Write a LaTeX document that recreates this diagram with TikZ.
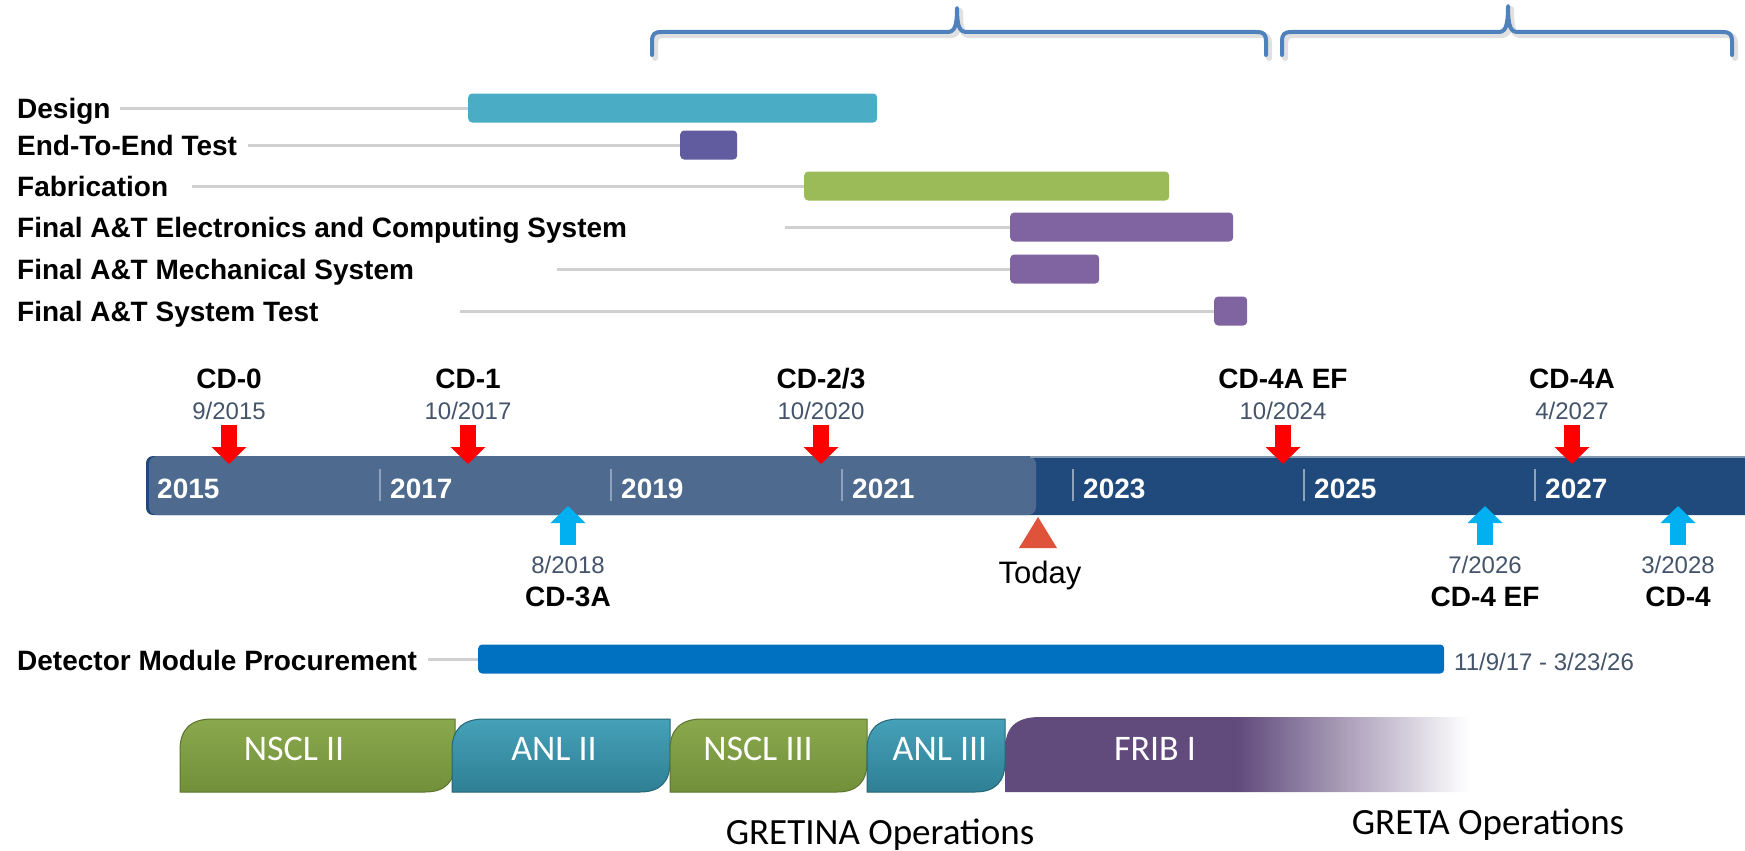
\documentclass[tikz,border=0pt]{standalone}
\usepackage{fontspec}
\setmainfont{Liberation Sans}
\newfontfamily\calibri{Carlito}
\usepackage{tikz}
\usetikzlibrary{arrows.meta}

\definecolor{designcol}{HTML}{4BACC6}
\definecolor{etecol}{HTML}{615B9F}
\definecolor{fabcol}{HTML}{9BBB59}
\definecolor{atcol}{HTML}{8064A2}
\definecolor{guidegray}{HTML}{D0D0D0}
\definecolor{lightbar}{HTML}{4E6A8E}
\definecolor{darkbar}{HTML}{214A7C}
\definecolor{tickcol}{HTML}{8EA2BE}
\definecolor{datecol}{HTML}{44546A}
\definecolor{milered}{HTML}{FF0000}
\definecolor{mileblue}{HTML}{00B0F0}
\definecolor{todaycol}{HTML}{E0533B}
\definecolor{detcol}{HTML}{0070C0}
\definecolor{bracecol}{HTML}{4F81BD}
\definecolor{greentop}{HTML}{8AA84C}
\definecolor{greenbot}{HTML}{72903A}
\definecolor{tealtop}{HTML}{45A1B9}
\definecolor{tealbot}{HTML}{2F7F94}
\definecolor{fribcol}{HTML}{614A7C}

\begin{document}
\begin{tikzpicture}[x=1pt, y=-1pt,
  tasklabel/.style={anchor=base west, inner sep=0pt, font=\fontsize{28}{32}\selectfont\bfseries},
  taskbar/.style={anchor=west, inner sep=0pt, minimum height=29pt, rounded corners=4pt},
  guide/.style={draw=guidegray, line width=3pt},
  cdname/.style={anchor=base, inner sep=0pt, font=\fontsize{28}{32}\selectfont\bfseries},
  cddate/.style={anchor=base, inner sep=0pt, text=datecol, font=\fontsize{24}{28}\selectfont},
  downarr/.style={draw=milered, line width=16pt, -{Triangle[width=34pt,length=17pt]}},
  uparr/.style={draw=mileblue, line width=16pt, -{Triangle[width=34pt,length=17pt]}},
  yearlabel/.style={anchor=base west, inner sep=0pt, text=white, font=\fontsize{28}{32}\selectfont\bfseries},
  yeartick/.style={draw=tickcol, line width=2.5pt},
  opslabel/.style={anchor=base, inner sep=0pt, text=white, font=\calibri\fontsize{36}{40}\selectfont},
  opstitle/.style={anchor=base, inner sep=0pt, font=\calibri\fontsize{37}{42}\selectfont},
  curlybrace/.style={draw=bracecol, line width=4pt, line cap=round, line join=round},
  braceshadow/.style={draw=black, opacity=0.12, line width=6pt, line cap=round, line join=round}]

\useasboundingbox (0,0) rectangle (1745,851);

% Accolades du haut
\draw[braceshadow] (655,58) -- (655,45) .. controls (655,37) and (657,35) .. (665,35) -- (950,35) .. controls (957,35) and (960,31) .. (960,11) .. controls (960,31) and (963,35) .. (970,35) -- (1259,35) .. controls (1267,35) and (1269,37) .. (1269,45) -- (1269,58);
\draw[curlybrace] (652,55) -- (652,42) .. controls (652,34) and (654,32) .. (662,32) -- (947,32) .. controls (954,32) and (957,28) .. (957,8) .. controls (957,28) and (960,32) .. (967,32) -- (1256,32) .. controls (1264,32) and (1266,34) .. (1266,42) -- (1266,55);

\draw[braceshadow] (1285,58) -- (1285,45) .. controls (1285,37) and (1287,35) .. (1295,35) -- (1501,35) .. controls (1508,35) and (1511,31) .. (1511,9) .. controls (1511,31) and (1514,35) .. (1521,35) -- (1725,35) .. controls (1733,35) and (1735,37) .. (1735,45) -- (1735,58);
\draw[curlybrace] (1282,55) -- (1282,42) .. controls (1282,34) and (1284,32) .. (1292,32) -- (1498,32) .. controls (1505,32) and (1508,28) .. (1508,6) .. controls (1508,28) and (1511,32) .. (1518,32) -- (1722,32) .. controls (1730,32) and (1732,34) .. (1732,42) -- (1732,55);

% Taches
\node[tasklabel] (ldesign) at (17,118) {Design};
\coordinate (gdesign) at (120,108);
\node[taskbar, fill=designcol, minimum width=409pt] (bdesign) at (468,108) {};
\draw[guide] (gdesign) -- (bdesign.west);

\node[tasklabel] (lete) at (17,155) {End-To-End Test};
\coordinate (gete) at (248,145);
\node[taskbar, fill=etecol, minimum width=57pt] (bete) at (680,145) {};
\draw[guide] (gete) -- (bete.west);

\node[tasklabel] (lfab) at (17,196) {Fabrication};
\coordinate (gfab) at (192,186);
\node[taskbar, fill=fabcol, minimum width=365pt] (bfab) at (804,186) {};
\draw[guide] (gfab) -- (bfab.west);

\node[tasklabel] (lelec) at (17,237) {Final A\&T Electronics and Computing System};
\coordinate (gelec) at (785,227);
\node[taskbar, fill=atcol, minimum width=223pt] (belec) at (1010,227) {};
\draw[guide] (gelec) -- (belec.west);

\node[tasklabel] (lmech) at (17,279) {Final A\&T Mechanical System};
\coordinate (gmech) at (557,269);
\node[taskbar, fill=atcol, minimum width=89pt] (bmech) at (1010,269) {};
\draw[guide] (gmech) -- (bmech.west);

\node[tasklabel] (lsyst) at (17,321) {Final A\&T System Test};
\coordinate (gsyst) at (460,311);
\node[taskbar, fill=atcol, minimum width=33pt] (bsyst) at (1214,311) {};
\draw[guide] (gsyst) -- (bsyst.west);

% Frise chronologique
\fill[darkbar, rounded corners=7pt] (1760,456) -- (146,456) -- (146,515) -- (1760,515) -- cycle;
\fill[lightbar, rounded corners=8pt] (149,456) rectangle (1036,515);
\draw[color=lightbar!70!white, line width=1.5pt] (1030,457) -- (1745,457);

\draw[yeartick] (380,469) -- (380,501);
\draw[yeartick] (611,469) -- (611,501);
\draw[yeartick] (842,469) -- (842,501);
\draw[yeartick] (1073,469) -- (1073,501);
\draw[yeartick] (1304,469) -- (1304,501);
\draw[yeartick] (1535,469) -- (1535,501);

\node[yearlabel] (yfifteen) at (157,498) {2015};
\node[yearlabel] (yseventeen) at (390,498) {2017};
\node[yearlabel] (ynineteen) at (621,498) {2019};
\node[yearlabel] (ytwentyone) at (852,498) {2021};
\node[yearlabel] (ytwentythree) at (1083,498) {2023};
\node[yearlabel] (ytwentyfive) at (1314,498) {2025};
\node[yearlabel] (ytwentyseven) at (1545,498) {2027};

% Jalons au-dessus
\node[cdname] (cdzero) at (229,388) {CD-0};
\node[cddate] (dzero) at (229,419) {9/2015};
\coordinate (tzero) at (229,464);
\draw[downarr] (229,425) -- (tzero);

\node[cdname] (cdone) at (468,388) {CD-1};
\node[cddate] (done) at (468,419) {10/2017};
\coordinate (tone) at (468,464);
\draw[downarr] (468,425) -- (tone);

\node[cdname] (cdtwothree) at (821,388) {CD-2/3};
\node[cddate] (dtwothree) at (821,419) {10/2020};
\coordinate (ttwothree) at (821,464);
\draw[downarr] (821,425) -- (ttwothree);

\node[cdname] (cdfouraef) at (1283,388) {CD-4A EF};
\node[cddate] (dfouraef) at (1283,419) {10/2024};
\coordinate (tfouraef) at (1283,464);
\draw[downarr] (1283,425) -- (tfouraef);

\node[cdname] (cdfoura) at (1572,388) {CD-4A};
\node[cddate] (dfoura) at (1572,419) {4/2027};
\coordinate (tfoura) at (1572,464);
\draw[downarr] (1572,425) -- (tfoura);

% Jalons en dessous
\coordinate (sthreea) at (568,545);
\coordinate (tthreea) at (568,506);
\draw[uparr] (sthreea) -- (tthreea);
\node[cddate] (dthreea) at (568,573) {8/2018};
\node[cdname] (cdthreea) at (568,606) {CD-3A};

\coordinate (sfouref) at (1485,545);
\coordinate (tfouref) at (1485,506);
\draw[uparr] (sfouref) -- (tfouref);
\node[cddate] (dfouref) at (1485,573) {7/2026};
\node[cdname] (cdfouref) at (1485,606) {CD-4 EF};

\coordinate (sfour) at (1678,545);
\coordinate (tfour) at (1678,506);
\draw[uparr] (sfour) -- (tfour);
\node[cddate] (dfour) at (1678,573) {3/2028};
\node[cdname] (cdfour) at (1678,606) {CD-4};

% Aujourd'hui
\fill[todaycol] (1019,548) -- (1038,517) -- (1057,548) -- cycle;
\node[anchor=base, inner sep=0pt, font=\fontsize{31}{36}\selectfont] (today) at (1040,583) {Today};

% Approvisionnement des modules
\node[tasklabel] (ldet) at (17,670) {Detector Module Procurement};
\coordinate (gdet) at (428,659);
\node[taskbar, fill=detcol, minimum width=966pt] (bdet) at (478,659) {};
\draw[guide] (gdet) -- (bdet.west);
\node[anchor=base west, inner sep=0pt, text=datecol, font=\fontsize{24}{28}\selectfont] (ddet) at (1454,670) {11/9/17 - 3/23/26};

% Campagnes
\shade[top color=greentop, bottom color=greenbot, draw=greenbot!80!black, line width=1pt] (180,792) -- (180,750) .. controls (180,730) and (190,719) .. (212,719) -- (455,719) -- (455,762) .. controls (455,782) and (445,792) .. (425,792) -- cycle;
\node[opslabel] (nsclii) at (294,760) {NSCL II};

\shade[top color=tealtop, bottom color=tealbot, draw=tealbot!80!black, line width=1pt] (452,792) -- (452,750) .. controls (452,730) and (462,719) .. (484,719) -- (670,719) -- (670,762) .. controls (670,782) and (660,792) .. (640,792) -- cycle;
\node[opslabel] (anlii) at (554,760) {ANL II};

\shade[top color=greentop, bottom color=greenbot, draw=greenbot!80!black, line width=1pt] (670,792) -- (670,750) .. controls (670,730) and (680,719) .. (702,719) -- (867,719) -- (867,762) .. controls (867,782) and (857,792) .. (837,792) -- cycle;
\node[opslabel] (nscliii) at (758,760) {NSCL III};

\shade[top color=tealtop, bottom color=tealbot, draw=tealbot!80!black, line width=1pt] (867,792) -- (867,750) .. controls (867,730) and (877,719) .. (899,719) -- (1005,719) -- (1005,762) .. controls (1005,782) and (995,792) .. (975,792) -- cycle;
\node[opslabel] (anliii) at (940,760) {ANL III};

\shade[left color=fribcol, right color=white, middle color=fribcol] (1005,792) -- (1005,750) .. controls (1005,728) and (1015,717) .. (1040,717) -- (1469,717) -- (1469,792) -- cycle;
\node[opslabel] (fribi) at (1155,760) {FRIB I};

\node[opstitle] (gretina) at (880,844) {GRETINA Operations};
\node[opstitle] (greta) at (1488,834) {GRETA Operations};

\end{tikzpicture}
\end{document}
